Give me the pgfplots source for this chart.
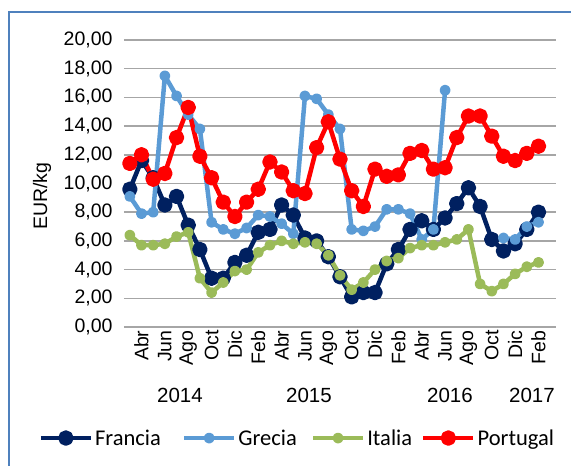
\documentclass[border=0pt]{standalone}
\usepackage{fontspec}
\setmainfont{Liberation Sans}
\newfontfamily\legfont{Carlito}
\usepackage{pgfplots}
\usepackage{pgfplotstable}
\pgfplotsset{compat=1.18}

\definecolor{francia}{HTML}{002060}
\definecolor{grecia}{HTML}{5B9BD5}
\definecolor{italia}{HTML}{9BBB59}
\definecolor{portugal}{HTML}{FF0000}
\definecolor{marco}{HTML}{4F81BD}
\definecolor{rejilla}{HTML}{A6A6A6}

% precios mensuales, mar 2014 (0) a feb 2017 (35), EUR/kg
\pgfplotstableread{
i  francia grecia italia portugal
0  9.6   9.1   6.4  11.4
1  11.6  7.9   5.7  12.0
2  10.4  8.0   5.7  10.3
3  8.5   17.5  5.8  10.7
4  9.1   16.1  6.3  13.2
5  7.1   14.8  6.6  15.3
6  5.4   13.8  3.4  11.9
7  3.4   7.3   2.4  10.4
8  3.4   6.8   3.1  8.7
9  4.5   6.5   3.9  7.7
10 5.0   6.9   4.0  8.7
11 6.6   7.8   5.2  9.6
12 6.8   7.7   5.7  11.5
13 8.5   7.2   6.0  10.8
14 7.8   6.5   5.8  9.5
15 6.2   16.1  5.9  9.3
16 6.0   15.9  5.8  12.5
17 4.9   14.8  5.0  14.3
18 3.5   13.8  3.6  11.7
19 2.1   6.8   2.6  9.5
20 2.4   6.7   3.1  8.4
21 2.4   7.0   4.0  11.0
22 4.4   8.2   4.6  10.5
23 5.4   8.2   4.8  10.6
24 6.8   7.9   5.5  12.1
25 7.4   6.1   5.7  12.3
26 6.8   6.8   5.7  11.0
27 7.6   16.5  5.9  11.1
28 8.6   nan   6.1  13.2
29 9.7   nan   6.8  14.7
30 8.4   nan   3.0  14.7
31 6.1   nan   2.5  13.3
32 5.3   6.2   3.0  11.9
33 5.8   6.1   3.7  11.6
34 6.8   7.0   4.2  12.1
35 8.0   7.3   4.5  12.6
}\precios

\begin{document}
\begin{tikzpicture}[x=1pt,y=1pt]
\useasboundingbox (0,0) rectangle (571,466);
\draw[marco, line width=2.5pt] (9,-10) -- (9,454) -- (590,454);

\begin{axis}[
    at={(124pt,139pt)}, anchor=south west,
    width=432pt, height=287pt, scale only axis,
    xmin=-0.5, xmax=36.5,
    ymin=0, ymax=20, ytick distance=2,
    axis line style={draw=none},
    tick style={draw=none},
    ymajorgrids, grid style={rejilla, line width=1.5pt},
    xtick={1,3,...,35},
    xticklabels={Abr,Jun,Ago,Oct,Dic,Feb,Abr,Jun,Ago,Oct,Dic,Feb,Abr,Jun,Ago,Oct,Dic,Feb},
    xticklabel style={rotate=90, anchor=east, font=\fontsize{19.5}{22}\selectfont},
    yticklabel style={font=\fontsize{19.5}{22}\selectfont, xshift=-8pt,
        /pgf/number format/fixed, /pgf/number format/fixed zerofill,
        /pgf/number format/precision=2, /pgf/number format/use comma},
    /pgf/number format/assume math mode=true,
    unbounded coords=jump,
    clip=false,
    legend columns=4,
    legend style={at={(axis description cs:-0.205,-0.387)}, anchor=west, draw=none, fill=none,
        font=\legfont\fontsize{22.5}{26}\selectfont,
        /tikz/column 2/.style={column sep=19pt},
        /tikz/column 4/.style={column sep=12pt},
        /tikz/column 6/.style={column sep=7pt}},
    legend image code/.code={\draw[mark repeat=2, mark phase=2, #1] plot coordinates {(0pt,0pt) (25pt,0pt) (50pt,0pt)};},
]
\addplot[francia, line width=4.5pt, line join=round, mark=*, mark size=5.5pt] table[x=i, y=francia] {\precios};
\addlegendentry{Francia}
\addplot[grecia, line width=4.5pt, line join=round, mark=*, mark size=3.2pt] table[x=i, y=grecia] {\precios};
\addlegendentry{Grecia}
\addplot[italia, line width=4.5pt, line join=round, mark=*, mark size=3.2pt] table[x=i, y=italia] {\precios};
\addlegendentry{Italia}
\addplot[portugal, line width=4.5pt, line join=round, mark=*, mark size=5.5pt] table[x=i, y=portugal] {\precios};
\addlegendentry{Portugal}
\end{axis}

\node[rotate=90, font=\fontsize{19.5}{22}\selectfont] at (42,270) {EUR/kg};
\foreach \a/\t in {180/2014, 309/2015, 450/2016, 532/2017}
  \node[font=\fontsize{20.5}{24}\selectfont] at (\a,71) {\t};
\end{tikzpicture}
\end{document}
